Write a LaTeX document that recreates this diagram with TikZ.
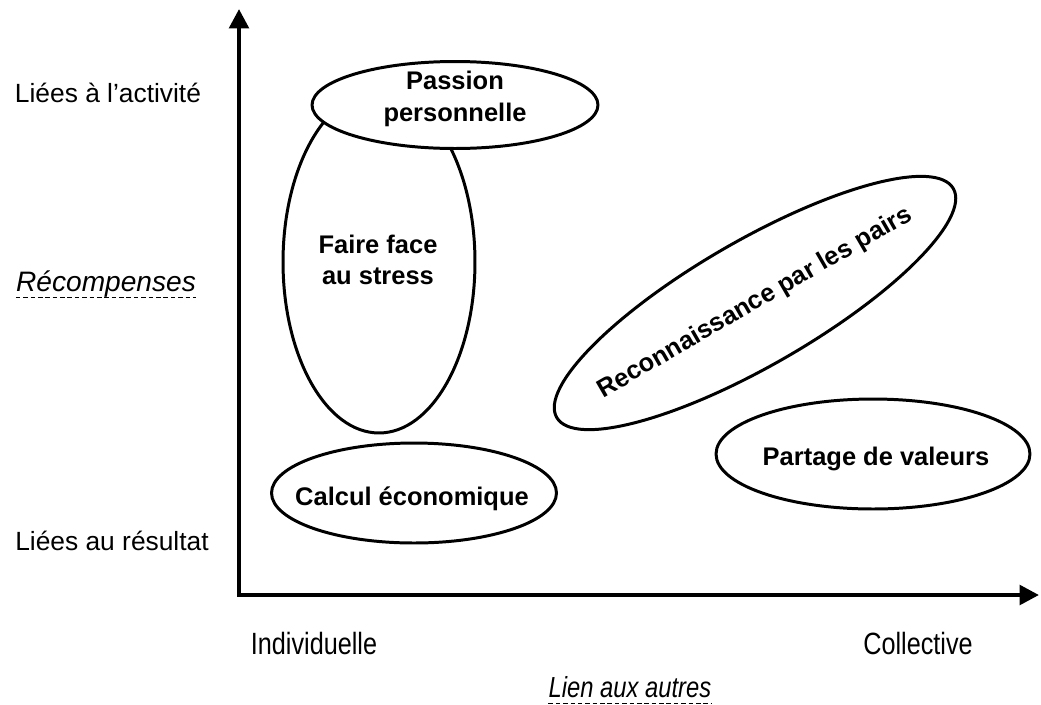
\documentclass[tikz,border=0pt]{standalone}
\usepackage{fontspec}
\setmainfont{Liberation Sans}
\newfontfamily\narrowfont[FakeStretch=0.82]{Liberation Sans}
\usetikzlibrary{shapes.geometric, arrows.meta}
\tikzset{
    blob/.style={
        ellipse,
        draw=black,
        line width=1.7pt,
        fill=white,
        inner sep=0pt
    },
    blobtext/.style={
        inner sep=0pt,
        align=center,
        font=\fontsize{14.5}{18}\selectfont\bfseries
    },
    axis/.style={
        line width=2.4pt,
        {Triangle[length=11pt,width=11pt]}-{Triangle[length=11pt,width=11pt]}
    },
    axlabel/.style={
        font=\fontsize{15}{18}\selectfont,
        inner sep=0pt
    },
    axtitle/.style={
        font=\fontsize{16}{19}\selectfont\itshape,
        inner sep=0pt
    },
    narrowlabel/.style={
        font=\fontsize{17.5}{20}\selectfont\narrowfont,
        inner sep=0pt
    },
    underline/.style={
        line width=0.6pt,
        dash pattern=on 2.6pt off 1.6pt
    }
}

\begin{document}
\begin{tikzpicture}[x=0.02cm, y=-0.02cm]
  \useasboundingbox (0,0) rectangle (1041,704);

  % Axes
  \coordinate (O) at (239,595);
  \coordinate (ytop) at (239,9);
  \coordinate (xend) at (1039,595);
  \draw[axis] (ytop) -- (O) -- (xend);

  % Vertical axis labels
  \node[axlabel] (act) at (108,93) {Liées à l’activité};
  \node[axtitle] (rec) at (106,284) {Récompenses};
  \node[axlabel] (res) at (112,541) {Liées au résultat};
  \draw[underline] ([yshift=-3.5pt]rec.base west) -- ([yshift=-3.5pt]rec.base east);

  % Horizontal axis labels
  \node[narrowlabel] (indiv) at (314,643) {Individuelle};
  \node[narrowlabel] (coll) at (918,643) {Collective};
  \node[narrowlabel, font=\fontsize{16.5}{20}\selectfont\narrowfont\itshape] (lien) at (630,687) {Lien aux autres};
  \draw[underline] ([yshift=-3.5pt]lien.base west) -- ([yshift=-3.5pt]lien.base east);

  % Rewards
  \node[blob, minimum width=3.84cm, minimum height=6.84cm] (stress) at (379,262) {};
  \node[blobtext] (stresstext) at (378,260) {Faire face\\au stress};
  \node[blob, minimum width=5.72cm, minimum height=1.74cm] (passion) at (455,105) {};
  \node[blobtext] (passiontext) at (455,99) {Passion\\personnelle};
  \node[blob, minimum width=5.7cm, minimum height=2.0cm] (calcul) at (414,493) {};
  \node[blobtext] (calcultext) at (412,499) {Calcul économique};
  \node[blob, minimum width=6.28cm, minimum height=2.2cm] (partage) at (873,454) {};
  \node[blobtext] (partagetext) at (876,459) {Partage de valeurs};
  \node[blob, rotate=30, minimum width=9.16cm, minimum height=2.5cm] (reco) at (755,303) {};
  \node[blobtext, rotate=30] (recotext) at (reco.center) {Reconnaissance par les pairs};
\end{tikzpicture}
\end{document}
